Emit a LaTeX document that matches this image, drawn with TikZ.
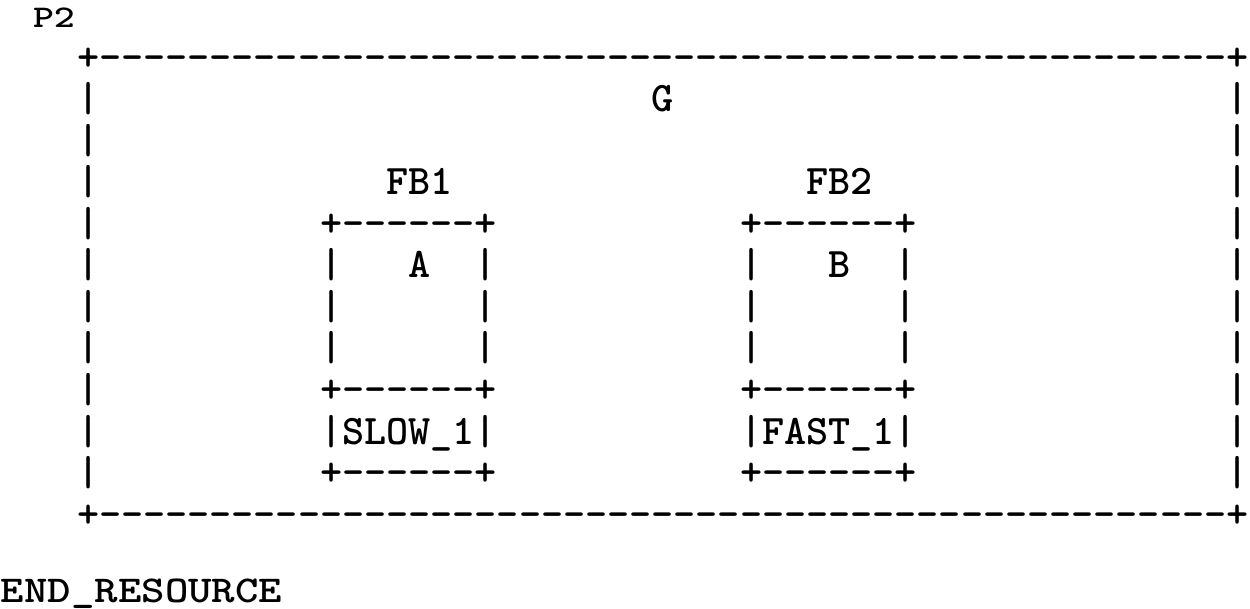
\documentclass[tikz,border=0pt]{standalone}
\newcommand\dashrun[1]{\count255=0 \loop\ifnum\count255<#1 -\kern0pt\advance\count255 by 1 \repeat}
\tikzset{ascii/.style={anchor=base west, inner sep=0pt, outer sep=0pt, font={\fontsize{42.1}{42}\selectfont\ttfamily\bfseries}}}
\newcommand\asciiat[4]{\node[ascii] (#1) at ({77+22.1*(#2)},{112+41.5*((#3)-2)}) {#4};}
\begin{document}
\begin{tikzpicture}[x=1pt,y=-1pt]
\useasboundingbox (0,0) rectangle (1250,609);
\node[ascii] (p2) at (33,28) {\scalebox{0.95}[0.75]{P2}};
\asciiat{gtop}{0}{1}{+\dashrun{51}+}
\foreach \r in {2,...,11} {\asciiat{gl\r}{0}{\r}{|}\asciiat{gr\r}{52}{\r}{|}}
\asciiat{glabel}{26}{2}{G}
\asciiat{gbot}{0}{12}{+\dashrun{51}+}
\asciiat{fbone}{14}{4}{FB1}
\asciiat{fbtwo}{33}{4}{FB2}
% box FB1 at column 11
\asciiat{aTop}{11}{5}{+\dashrun{6}+}
\foreach \r in {6,7,8,10} {\asciiat{aL\r}{11}{\r}{|}\asciiat{aR\r}{18}{\r}{|}}
\asciiat{aLabel}{15}{6}{A}
\asciiat{aMid}{11}{9}{+\dashrun{6}+}
\asciiat{aRes}{12}{10}{SLOW\_1}
\asciiat{aBot}{11}{11}{+\dashrun{6}+}
% box FB2 at column 30
\asciiat{bTop}{30}{5}{+\dashrun{6}+}
\foreach \r in {6,7,8,10} {\asciiat{bL\r}{30}{\r}{|}\asciiat{bR\r}{37}{\r}{|}}
\asciiat{bLabel}{34}{6}{B}
\asciiat{bMid}{30}{9}{+\dashrun{6}+}
\asciiat{bRes}{31}{10}{FAST\_1}
\asciiat{bBot}{30}{11}{+\dashrun{6}+}
\node[ascii] (endres) at (1,602) {\scalebox{1.06}[0.9]{END\_RESOURCE}};
\end{tikzpicture}
\end{document}
